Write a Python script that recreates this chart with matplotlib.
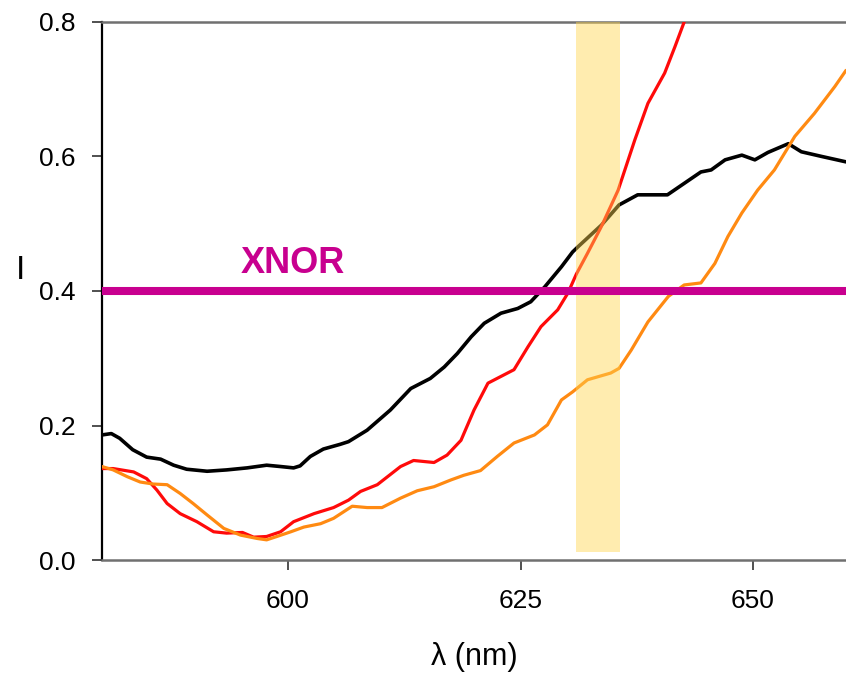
import numpy as np
import matplotlib.pyplot as plt

plt.rcParams['font.family'] = ['Liberation Sans', 'DejaVu Sans']

# Espectros (lambda en nm, intensidad)
negro_x = [580.0, 581.0, 581.9, 583.3, 584.8, 586.3, 587.7, 589.1, 591.3, 593.4,
           595.6, 597.7, 599.2, 600.6, 601.3, 602.4, 603.8, 605.6, 606.5, 608.5,
           611.0, 613.2, 615.3, 616.8, 618.2, 619.7, 621.1, 622.9, 624.7, 626.1,
           627.6, 629.4, 630.6, 631.2, 633.7, 635.6, 637.6, 640.8, 642.6, 644.4,
           645.5, 647.0, 648.8, 650.2, 651.6, 653.8, 655.2, 657.4, 660.0]
negro_y = [0.186, 0.188, 0.181, 0.164, 0.153, 0.150, 0.141, 0.135, 0.132, 0.134,
           0.137, 0.141, 0.139, 0.137, 0.140, 0.154, 0.165, 0.172, 0.176, 0.193,
           0.223, 0.255, 0.270, 0.287, 0.307, 0.332, 0.352, 0.367, 0.374, 0.384,
           0.406, 0.436, 0.458, 0.466, 0.498, 0.528, 0.543, 0.543, 0.560, 0.577,
           0.580, 0.595, 0.602, 0.595, 0.606, 0.619, 0.607, 0.600, 0.592]

rojo_x = [580.0, 581.2, 583.4, 584.8, 585.9, 587.0, 588.4, 590.2, 592.0, 593.4,
          595.1, 596.3, 597.7, 599.2, 600.6, 602.8, 604.9, 606.5, 607.8, 609.6,
          612.1, 613.5, 615.7, 617.1, 618.6, 620.0, 621.5, 622.9, 624.3, 625.8,
          627.2, 629.0, 630.1, 631.0, 632.2, 633.7, 635.5, 637.3, 638.7, 640.5,
          641.6, 642.6, 643.5]
rojo_y = [0.136, 0.136, 0.131, 0.121, 0.104, 0.084, 0.069, 0.057, 0.042, 0.040,
          0.041, 0.034, 0.035, 0.042, 0.057, 0.069, 0.078, 0.089, 0.102, 0.112,
          0.139, 0.148, 0.145, 0.156, 0.178, 0.223, 0.263, 0.273, 0.283, 0.317,
          0.347, 0.372, 0.397, 0.425, 0.456, 0.496, 0.550, 0.625, 0.679, 0.724,
          0.763, 0.800, 0.830]

naranja_x = [580.0, 581.2, 582.7, 584.1, 585.5, 587.0, 588.4, 589.8, 591.3, 593.1,
             594.9, 596.7, 597.7, 598.8, 600.3, 601.7, 603.5, 604.9, 606.9, 608.5,
             610.1, 612.1, 613.9, 615.7, 617.5, 618.9, 620.7, 622.5, 624.3, 626.5,
             627.9, 629.4, 630.6, 632.2, 634.7, 635.6, 636.9, 638.7, 640.9, 642.6,
             644.4, 645.9, 647.3, 648.8, 650.5, 652.3, 654.5, 656.6, 658.8, 660.0]
naranja_y = [0.139, 0.134, 0.124, 0.116, 0.113, 0.112, 0.099, 0.084, 0.067, 0.047,
             0.037, 0.032, 0.030, 0.035, 0.042, 0.049, 0.054, 0.062, 0.080, 0.078,
             0.078, 0.092, 0.103, 0.109, 0.119, 0.126, 0.133, 0.154, 0.174, 0.186,
             0.201, 0.238, 0.250, 0.268, 0.278, 0.285, 0.312, 0.354, 0.392, 0.409,
             0.412, 0.441, 0.481, 0.516, 0.550, 0.580, 0.630, 0.664, 0.704, 0.728]

umbral = 0.40
banda_x = [631.0, 635.7]
banda_y = [0.012, 0.80]
etiqueta = 'XNOR'

fig = plt.figure(figsize=(8.46, 6.78), dpi=100)
ax = fig.add_axes([0.1206, 0.174, 0.8794, 0.7936])

estilo = dict(solid_joinstyle='round', solid_capstyle='round', zorder=3)
ax.plot(negro_x, negro_y, color='black', lw=2.6, **estilo)
ax.plot(rojo_x, rojo_y, color='#FF0A0A', lw=2.3, **estilo)
ax.plot(naranja_x, naranja_y, color='#FF8A12', lw=2.3, **estilo)

# banda semitransparente por encima de las curvas
ax.fill_between(banda_x, banda_y[0], banda_y[1], color='#FFD54F', alpha=0.45,
                lw=0, zorder=4)

ax.axhline(umbral, color='#C8008F', lw=5.8, zorder=5)
ax.text(594.9, 0.427, etiqueta, color='#C8008F', fontsize=26,
        fontweight='bold', va='baseline', ha='left', zorder=6)

ax.set_xlim(580, 660)
ax.set_ylim(0, 0.8)
ax.set_xticks([600, 625, 650])
ax.set_yticks([0.0, 0.2, 0.4, 0.6, 0.8])
ax.set_yticklabels(['0.0', '0.2', '0.4', '0.6', '0.8'])

ax.spines['right'].set_visible(False)
ax.spines['left'].set_color('black')
ax.spines['left'].set_linewidth(1.6)
ax.spines['bottom'].set_color('#707070')
ax.spines['bottom'].set_linewidth(1.8)
ax.spines['top'].set_color('#707070')
ax.spines['top'].set_linewidth(1.8)

ax.tick_params(axis='both', direction='out', length=7, width=1.4,
               labelsize=19, pad=12, color='#505050')
ax.tick_params(axis='x', pad=14)

ax.set_xlabel('λ (nm)', fontsize=22, labelpad=21)
fig.text(20 / 846, 1 - 271 / 678, 'I', fontsize=24, ha='center', va='center')

plt.savefig('out.png', dpi=100)
